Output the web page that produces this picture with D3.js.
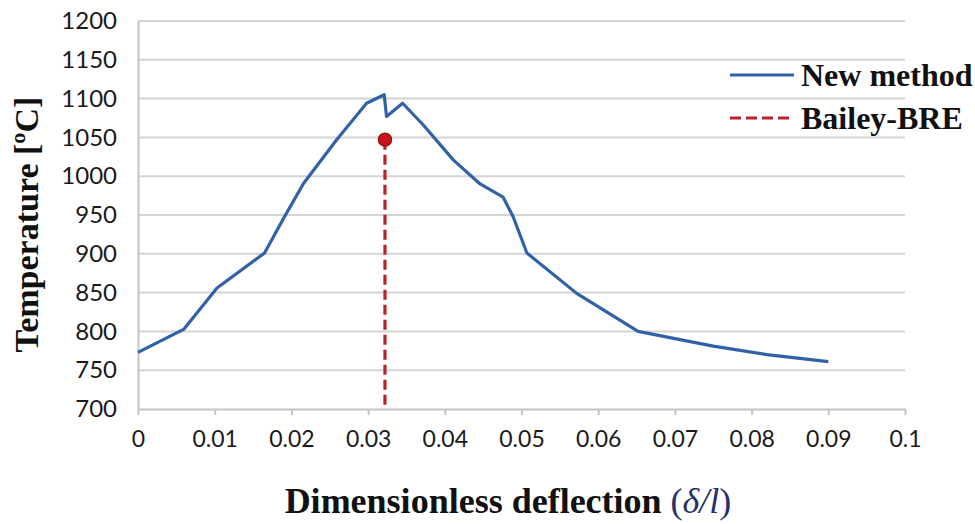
<!DOCTYPE html>
<html>
<head>
<meta charset="utf-8">
<script src="https://cdn.jsdelivr.net/npm/d3@7"></script>
<style>
  html, body { margin: 0; padding: 0; background: #fff; }
  svg { display: block; }
</style>
</head>
<body>
<svg id="chart" width="975" height="524"></svg>
<script>
// Temperature vs. dimensionless deflection
const deflection = [0, 0.006, 0.0103, 0.0165, 0.019, 0.0216, 0.0259, 0.0298, 0.0321, 0.0324, 0.0345, 0.0372, 0.0411, 0.0446, 0.0476, 0.0489, 0.0507, 0.0572, 0.0652, 0.075, 0.082, 0.090];
const temperature = [773, 803, 856, 901, 946, 991, 1047, 1094, 1105, 1077, 1094, 1066, 1021, 990, 973, 948, 901, 849, 800, 781, 770, 761];

// Bailey-BRE prediction (single point with drop line)
const baileyDeflection = [0.0322];
const baileyTemperature = [1047];

const xTicks = [0, 0.01, 0.02, 0.03, 0.04, 0.05, 0.06, 0.07, 0.08, 0.09, 0.1];
const yTicks = [700, 750, 800, 850, 900, 950, 1000, 1050, 1100, 1150, 1200];
const seriesNames = ["New method", "Bailey-BRE"];

const svg = d3.select("#chart");
const plotLeft = 138, plotRight = 905, plotTop = 21, plotBottom = 409;

const x = d3.scaleLinear().domain([0, 0.1]).range([plotLeft, plotRight]);
const y = d3.scaleLinear().domain([700, 1200]).range([plotBottom, plotTop]);

const blue = "#3162a8";
const red = "#b5232b";
const grid = "#d4d4d4";
const tickFont = "Lato, 'Open Sans', sans-serif";
const serif = "'Liberation Serif', 'DejaVu Serif', serif";

// horizontal gridlines
svg.append("g")
  .selectAll("line")
  .data(yTicks.filter(d => d > 700))
  .join("line")
  .attr("x1", plotLeft).attr("x2", plotRight)
  .attr("y1", d => y(d)).attr("y2", d => y(d))
  .attr("stroke", grid).attr("stroke-width", 2);

// x axis
const xAxis = svg.append("g")
  .attr("transform", `translate(0,${plotBottom})`)
  .call(d3.axisBottom(x).tickValues(xTicks).tickSize(6).tickSizeOuter(0)
    .tickFormat(d => String(+d.toFixed(2))));
xAxis.select(".domain").attr("stroke", "#c4c4c4").attr("stroke-width", 2);
xAxis.selectAll(".tick line").attr("stroke", "#c4c4c4").attr("stroke-width", 2);
xAxis.selectAll(".tick text")
  .attr("y", 22).attr("dy", "0.71em")
  .attr("font-family", tickFont).attr("font-size", 23).attr("fill", "#1a1a1a");

// y axis
const yAxis = svg.append("g")
  .attr("transform", `translate(${plotLeft},0)`)
  .call(d3.axisLeft(y).tickValues(yTicks).tickSize(0).tickPadding(21)
    .tickFormat(d => String(d)));
yAxis.select(".domain").attr("stroke", "#c4c4c4").attr("stroke-width", 2);
yAxis.selectAll(".tick text")
  .attr("font-family", tickFont).attr("font-size", 24).attr("fill", "#1a1a1a");

// New method curve
const line = d3.line().x((d, i) => x(deflection[i])).y(d => y(d));
svg.append("path")
  .datum(temperature)
  .attr("d", line)
  .attr("fill", "none")
  .attr("stroke", blue)
  .attr("stroke-width", 3.2)
  .attr("stroke-linejoin", "round");

// Bailey-BRE drop line and marker
baileyDeflection.forEach((bx, i) => {
  svg.append("line")
    .attr("x1", x(bx)).attr("x2", x(bx))
    .attr("y1", y(baileyTemperature[i])).attr("y2", y(700))
    .attr("stroke", red).attr("stroke-width", 3.2)
    .attr("stroke-dasharray", "10,5");
  svg.append("circle")
    .attr("cx", x(bx)).attr("cy", y(baileyTemperature[i]))
    .attr("r", 6.5)
    .attr("fill", "#c4161c")
    .attr("stroke", "#9e1318").attr("stroke-width", 1.5);
});

// legend
const legend = svg.append("g").attr("transform", "translate(730,0)");
const legendRows = [
  { name: seriesNames[0], color: blue, dash: null, y: 75 },
  { name: seriesNames[1], color: red, dash: "11,5", y: 118 }
];
legendRows.forEach(r => {
  legend.append("line")
    .attr("x1", 0).attr("x2", 64)
    .attr("y1", r.y).attr("y2", r.y)
    .attr("stroke", r.color).attr("stroke-width", 3.2)
    .attr("stroke-dasharray", r.dash);
  legend.append("text")
    .attr("x", 71).attr("y", r.y + 11)
    .attr("font-family", serif).attr("font-weight", "bold")
    .attr("font-size", 32).attr("fill", "#111")
    .text(r.name);
});

// axis titles
svg.append("text")
  .attr("transform", `translate(38,${(92 + 357) / 2}) rotate(-90)`)
  .attr("text-anchor", "middle")
  .attr("font-family", serif).attr("font-weight", "bold")
  .attr("font-size", 34).attr("fill", "#111")
  .text("Temperature [ºC]");

const xt = svg.append("text")
  .attr("x", 508).attr("y", 513)
  .attr("text-anchor", "middle")
  .attr("font-family", serif).attr("font-size", 36).attr("fill", "#111");
xt.append("tspan").attr("font-weight", "bold").text("Dimensionless deflection ");
xt.append("tspan").attr("fill", "#26306a").text("(");
xt.append("tspan").attr("fill", "#26306a").attr("font-style", "italic").text("δ/l");
xt.append("tspan").attr("fill", "#26306a").text(")");
</script>
</body>
</html>
